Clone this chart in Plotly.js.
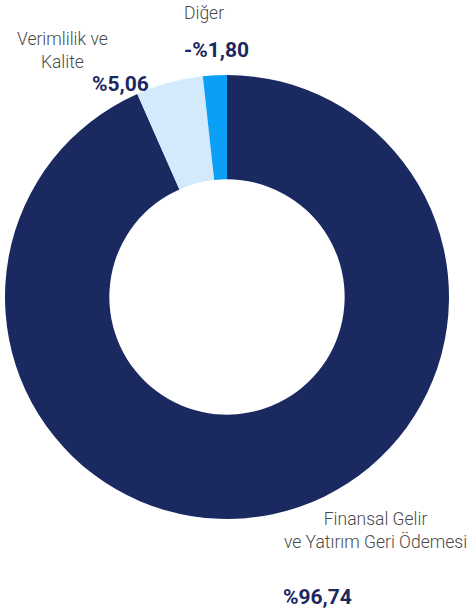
<!DOCTYPE html>
<html>
<head>
<meta charset="utf-8">
<script src="https://cdn.plot.ly/plotly-3.0.1.min.js"></script>
<style>html,body{margin:0;padding:0;background:#fff;}#chart{width:475px;height:608px;}</style>
</head>
<body>
<div id="chart"></div>
<script>
const categories = ["Finansal Gelir<br>ve Yatırım Geri Ödemesi", "Verimlilik ve<br>Kalite", "Diğer"];
const values = [96.74, 5.06, 1.80];
const valueLabels = ["%96,74", "%5,06", "-%1,80"];
const colors = ["#1b2961", "#d2eafc", "#0ba0f5"];

const W = 475, H = 608;
const px = (x) => x / W;
const py = (y) => 1 - y / H;

const trace = {
  type: "pie",
  labels: categories,
  values: values,
  sort: false,
  direction: "clockwise",
  rotation: 0,
  hole: 0.53,
  textinfo: "none",
  hoverinfo: "label+value",
  marker: { colors: colors, line: { width: 0 } },
  domain: { x: [px(5), px(449)], y: [py(519), py(75)] },
  showlegend: false
};

const labelFont = { family: "Roboto, sans-serif", size: 17.5, color: "#4a4a4a", weight: 300 };
const valueFont = { family: "Roboto, sans-serif", size: 21, color: "#1b2961", weight: 700 };

const labelPos = [
  { x: 375, y: 530 },
  { x: 62, y: 51 },
  { x: 204, y: 13 }
];
const valuePos = [
  { x: 317, y: 597 },
  { x: 120, y: 84 },
  { x: 216, y: 50 }
];

const annotations = [];
categories.forEach((c, i) => {
  annotations.push({
    text: c, xref: "paper", yref: "paper",
    x: px(labelPos[i].x), y: py(labelPos[i].y),
    xanchor: "center", yanchor: "middle", showarrow: false,
    font: labelFont, align: "center"
  });
  annotations.push({
    text: "<b>" + valueLabels[i] + "</b>", xref: "paper", yref: "paper",
    x: px(valuePos[i].x), y: py(valuePos[i].y),
    xanchor: "center", yanchor: "middle", showarrow: false,
    font: valueFont, align: "center"
  });
});

const layout = {
  width: W, height: H,
  margin: { l: 0, r: 0, t: 0, b: 0 },
  paper_bgcolor: "#ffffff",
  plot_bgcolor: "#ffffff",
  annotations: annotations
};

Plotly.newPlot("chart", [trace], layout, { displayModeBar: false, staticPlot: true });
</script>
</body>
</html>
